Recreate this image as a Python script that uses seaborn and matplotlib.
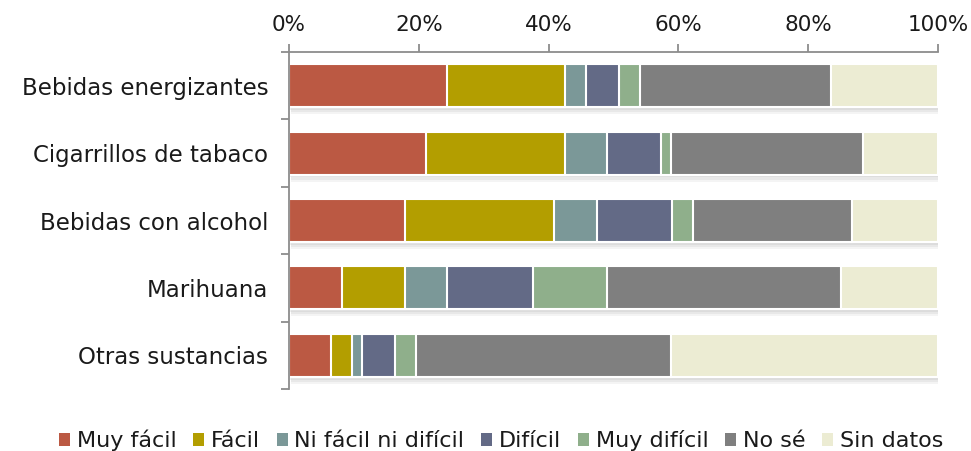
import numpy as np
import pandas as pd
import matplotlib
matplotlib.use("Agg")
import matplotlib.pyplot as plt
import matplotlib.patheffects as pe
from matplotlib.patches import Patch
from matplotlib.ticker import FixedLocator, PercentFormatter
import seaborn as sns

categories = ["Bebidas energizantes", "Cigarrillos de tabaco", "Bebidas con alcohol",
              "Marihuana", "Otras sustancias"]
series_names = ["Muy fácil", "Fácil", "Ni fácil ni difícil", "Difícil",
                "Muy difícil", "No sé", "Sin datos"]
muy_facil = [24.3, 21.1, 17.9, 8.1, 6.4]
facil = [18.2, 21.4, 23.0, 9.8, 3.3]
ni_facil = [3.3, 6.5, 6.6, 6.5, 1.6]
dificil = [5.0, 8.3, 11.5, 13.2, 5.0]
muy_dificil = [3.3, 1.6, 3.3, 11.4, 3.3]
no_se = [29.4, 29.5, 24.5, 36.1, 39.3]
sin_datos = [16.5, 11.6, 13.2, 14.9, 41.1]
x_ticks = [0, 20, 40, 60, 80, 100]

colors = ["#BB5943", "#B39E00", "#7B9898", "#636A86", "#8FAF8B", "#7F7F7F", "#ECECD3"]

sns.set_theme(style="white")
plt.rcParams["font.family"] = ["DejaVu Sans"]

values = [muy_facil, facil, ni_facil, dificil, muy_dificil, no_se, sin_datos]
rows = []
for s_idx, name in enumerate(series_names):
    for c_idx, cat in enumerate(categories):
        rows.append({"cat": cat, "serie": name, "val": values[s_idx][c_idx]})
df = pd.DataFrame(rows)
df["cum"] = df.groupby("cat", sort=False)["val"].cumsum()

fig = plt.figure(figsize=(9.71, 4.51), dpi=100)
ax = fig.add_axes([289 / 971, 1 - 389 / 451, (938 - 289) / 971, (389 - 52) / 451])

# draw cumulative bars from the longest to the shortest so they stack visually
for s_idx in range(len(series_names) - 1, -1, -1):
    name = series_names[s_idx]
    sub = df[df["serie"] == name]
    n_before = len(ax.patches)
    sns.barplot(data=sub, x="cum", y="cat", order=categories, orient="h",
                color=colors[s_idx], saturation=1, width=0.64,
                edgecolor="white", linewidth=1.5, ax=ax)
    if s_idx == len(series_names) - 1:
        for p in ax.patches[n_before:]:
            p.set_path_effects([
                pe.SimplePatchShadow(offset=(1.5, -5), shadow_rgbFace="#999999", alpha=0.10),
                pe.SimplePatchShadow(offset=(1.5, -3.5), shadow_rgbFace="#999999", alpha=0.12),
                pe.SimplePatchShadow(offset=(1.0, -2), shadow_rgbFace="#999999", alpha=0.15),
                pe.Normal()])

ax.set_xlim(0, 100)
ax.set_ylim(len(categories) - 0.5, -0.5)
ax.set_xlabel("")
ax.set_ylabel("")

ax.xaxis.tick_top()
ax.xaxis.set_major_locator(FixedLocator(x_ticks))
ax.xaxis.set_major_formatter(PercentFormatter(decimals=0))
ax.tick_params(axis="x", top=True, bottom=False, length=6, width=1.3, color="#8c8c8c",
               direction="out", pad=6, labelsize=15.5, labelcolor="#1a1a1a")

ax.yaxis.set_minor_locator(FixedLocator([i + 0.5 for i in range(-1, len(categories))]))
ax.tick_params(axis="y", which="major", left=False, length=0, pad=15,
               labelsize=16.5, labelcolor="#1a1a1a")
ax.tick_params(axis="y", which="minor", left=True, length=6, width=1.3,
               color="#8c8c8c", direction="out")

for side in ["right", "bottom"]:
    ax.spines[side].set_visible(False)
for side in ["top", "left"]:
    ax.spines[side].set_visible(True)
    ax.spines[side].set_color("#8c8c8c")
    ax.spines[side].set_linewidth(1.3)

handles = [Patch(facecolor=c, edgecolor="none") for c in colors]
fig.legend(handles, series_names, loc="lower center", bbox_to_anchor=(0.516, -0.02),
           ncol=7, frameon=False, fontsize=16, handlelength=0.5, handleheight=0.5,
           handletextpad=0.3, columnspacing=0.75, borderaxespad=0,
           labelcolor="#1a1a1a")

fig.savefig("out.png", dpi=100)
